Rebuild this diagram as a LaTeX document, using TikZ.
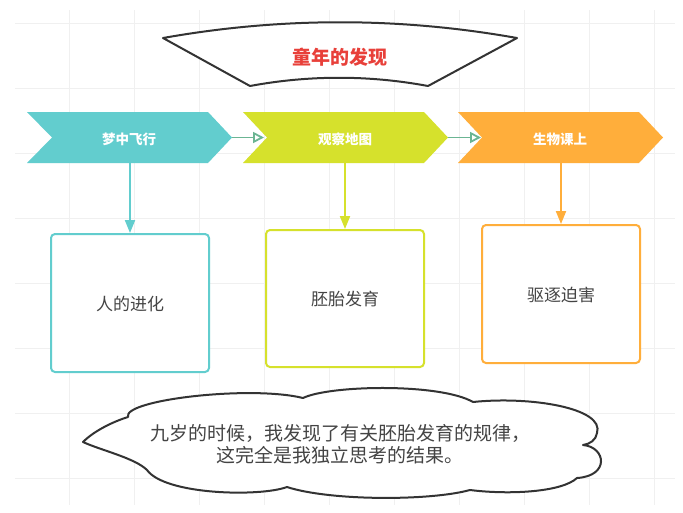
\documentclass[tikz,border=0pt]{standalone}
\usepackage{fontspec}
\newfontfamily\cjk{Noto Sans CJK SC}
\usetikzlibrary{arrows.meta}
\definecolor{tealc}{HTML}{62CDCE}
\definecolor{limec}{HTML}{D6E12C}
\definecolor{orngc}{HTML}{FFAE3B}
\definecolor{hredc}{HTML}{E8403A}
\definecolor{linkc}{HTML}{6BB593}
\definecolor{gridc}{HTML}{F0F0F0}
\definecolor{txtc}{HTML}{444444}
\definecolor{outc}{HTML}{333333}
\tikzset{
  gridline/.style={draw=gridc, line width=0.7},
  chevlabel/.style={text=white, font=\cjk\bfseries\fontsize{13.5}{16}\selectfont, inner sep=0},
  boxnode/.style={draw=#1, line width=2, rounded corners=4, fill=white, minimum width=158, inner sep=0},
  boxtext/.style={text=txtc, font=\cjk\fontsize{17}{20}\selectfont},
  linkarrow/.style={draw=linkc, line width=1.8, -{Triangle[open, length=11, width=11]}},
  downarrow/.style={draw=#1, line width=2, -{Triangle[length=13, width=10]}},
  outline/.style={draw=outc, line width=2, fill=white, line join=round}
}
\begin{document}
\begin{tikzpicture}[x=1pt,y=-1pt]
\useasboundingbox (0,0) rectangle (683,512);
\fill[white] (0,0) rectangle (683,512);
% grid
\foreach \x in {69,134,...,654} \draw[gridline] (\x,10) -- (\x,505);
\foreach \y in {23,88,...,478} \draw[gridline] (15,\y) -- (675,\y);

% header banner
\draw[outline] (163,38) .. controls (281,17) and (399,17) .. (517,38)
  -- (428,86) .. controls (369,75) and (309,75) .. (250,86) -- cycle;
\node[text=hredc, font=\cjk\bfseries\fontsize{19}{22}\selectfont] (hdr) at (340,57) {童年的发现};

% chevrons
\fill[tealc] (27,112) -- (208,112) -- (232,137.5) -- (208,163) -- (27,163) -- (52,137.5) -- cycle;
\fill[limec] (243,112) -- (424,112) -- (448,137.5) -- (424,163) -- (243,163) -- (267,137.5) -- cycle;
\fill[orngc] (458,112) -- (639,112) -- (663,137.5) -- (639,163) -- (458,163) -- (482,137.5) -- cycle;
\coordinate (t1) at (232,137.5);
\coordinate (n2) at (267,137.5);
\coordinate (t2) at (448,137.5);
\coordinate (n3) at (482,137.5);
\coordinate (b1) at (130,163);
\coordinate (b2) at (345,163);
\coordinate (b3) at (561,163);
\node[chevlabel] (c1) at (129,139) {梦中飞行};
\node[chevlabel] (c2) at (345,139) {观察地图};
\node[chevlabel] (c3) at (560,139) {生物课上};

\draw[linkarrow, shorten >=3] (t1) -- (n2);
\draw[linkarrow, shorten >=1] (t2) -- (n3);

% boxes
\node[boxnode=tealc, minimum height=138] (box1) at (130,303) {};
\node[boxnode=limec, minimum height=137] (box2) at (345,298.5) {};
\node[boxnode=orngc, minimum height=138] (box3) at (561,294) {};
\node[boxtext] (l1) at (130,304) {人的进化};
\node[boxtext] (l2) at (345,299) {胚胎发育};
\node[boxtext] (l3) at (561,295) {驱逐迫害};

\draw[downarrow=tealc] (b1) -- (box1.north);
\draw[downarrow=limec] (b2) -- (box2.north);
\draw[downarrow=orngc] (b3) -- (box3.north);

% cloud
\draw[outline] (83,442)
  .. controls (95,430) and (115,421) .. (128,417)
  .. controls (122,400) and (250,385) .. (303,398)
  .. controls (330,385) and (440,383) .. (473,402)
  .. controls (530,396) and (605,408) .. (597,433)
  .. controls (596,440) and (590,444) .. (583,445)
  .. controls (606,447) and (610,476) .. (577,478)
  .. controls (562,492) and (510,495) .. (470,490)
  .. controls (430,501) and (330,501) .. (287,487)
  .. controls (260,497) and (165,495) .. (147,470)
  .. controls (135,458) and (100,450) .. cycle;
\node[text=txtc, font=\cjk\fontsize{19}{22}\selectfont, align=center] (say) at (340,444)
  {九岁的时候，我发现了有关胚胎发育的规律，\\这完全是我独立思考的结果。};
\end{tikzpicture}
\end{document}
